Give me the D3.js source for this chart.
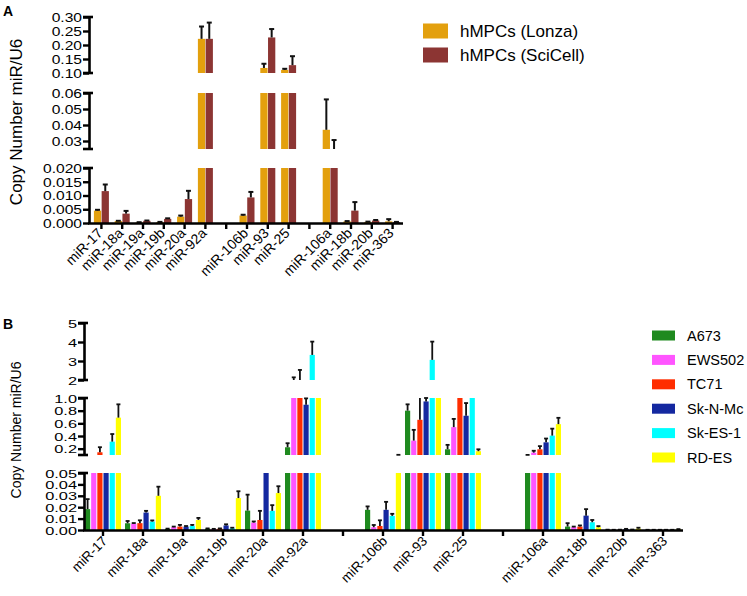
<!DOCTYPE html>
<html><head><meta charset="utf-8">
<script src="https://cdn.jsdelivr.net/npm/d3@7"></script>
<style>body{margin:0;background:#fff} svg{display:block} text{font-family:"Liberation Sans",Arial,Helvetica,sans-serif}</style>
</head><body>
<svg id="chart" width="747" height="596"></svg>
<script>
// ---------- shared categories ("" = empty slot) ----------
const categories = ["miR-17","miR-18a","miR-19a","miR-19b","miR-20a","miR-92a","","miR-106b","miR-93","miR-25","","miR-106a","miR-18b","miR-20b","miR-363"];

// ---------- Panel A data ----------
const seriesA = ["hMPCs (Lonza)", "hMPCs (SciCell)"];
const colorsA = ["#E3A00E", "#8C3533"];
const lonza     = [0.0045,0.0007,0.0002,0.0003,0.0023,0.222,null,0.0027,0.118,0.111,null,0.037,0.0006,0.0004,0.0006];
const lonzaErr  = [0.0003,0.0001,0.0001,0.0001,0.0004,0.044,null,0.0003,0.015,0.004,null,0.019,0.0001,0.0001,0.0008];
const scicell   = [0.0116,0.0034,0.0008,0.0015,0.0087,0.222,null,0.0093,0.227,0.128,null,0.024,0.0045,0.0009,0.0003];
const scicellErr= [0.0024,0.0010,0.0001,0.0002,0.0030,0.058,null,0.0020,0.030,0.032,null,0.0066,0.0031,0.0002,0.0001];
const ticksA_top = [0.10,0.15,0.20,0.25,0.30];
const labelsA_top = ["0.10","0.15","0.20","0.25","0.30"];
const ticksA_mid = [0.03,0.04,0.05,0.06];
const labelsA_mid = ["0.03","0.04","0.05","0.06"];
const ticksA_bot = [0,0.005,0.010,0.015,0.020];
const labelsA_bot = ["0.000","0.005","0.010","0.015","0.020"];

// ---------- Panel B data ----------
const seriesB = ["A673","EWS502","TC71","Sk-N-Mc","Sk-ES-1","RD-ES"];
const colorsB = ["#1F8A1F","#FF55FF","#FF2D00","#1428A0","#00FFFF","#FFFF00"];
const a673     = [0.0183,0.0059,0.0010,0.0012,0.017,0.222,null,0.0177,0.80,0.19,null,0.10,0.0030,0.0002,0.0001];
const a673Err  = [0.0088,0.0020,0.0002,0.0002,0.014,0.064,null,0.0030,0.10,0.07,null,0.002,0.0030,0.0001,0.0001];
const ews502   = [0.080,0.0056,0.0025,0.0008,0.0065,2.0,null,0.0024,0.327,0.54,null,0.137,0.0025,0.0001,0.0001];
const ews502Err= [0.005,0.0005,0.0005,0.0002,0.0010,0.14,null,0.0020,0.17,0.13,null,0.030,0.0005,0.0001,0.0001];
const tc71     = [0.143,0.0060,0.0030,0.0012,0.0088,1.95,null,0.0035,0.656,1.5,null,0.19,0.0030,0.0002,0.0001];
const tc71Err  = [0.080,0.0025,0.0015,0.0002,0.0080,0.58,null,0.0050,0.40,0.10,null,0.05,0.0010,0.0001,0.0001];
const skNMc    = [0.090,0.0153,0.0030,0.0040,0.080,0.894,null,0.0177,0.946,0.72,null,0.30,0.0126,0.0008,0.0001];
const skNMcErr = [0.005,0.0015,0.0005,0.0010,0.005,0.100,null,0.0070,0.054,0.20,null,0.06,0.0057,0.0002,0.0001];
const skES1    = [0.311,0.0074,0.0035,0.0015,0.0168,3.32,null,0.0124,3.06,1.5,null,0.406,0.0068,0.0003,0.0001];
const skES1Err = [0.120,0.0010,0.0010,0.0005,0.0050,0.70,null,0.0018,0.96,0.10,null,0.11,0.0020,0.0001,0.0001];
const rdES     = [0.69,0.030,0.0088,0.028,0.0324,1.5,null,0.100,1.5,0.16,null,0.587,0.0024,0.0012,0.0006];
const rdESErr  = [0.21,0.008,0.0018,0.006,0.0060,0.1,null,0.003,0.1,0.03,null,0.10,0.0010,0.0008,0.0002];
const ticksB_top = [2,3,4,5];
const labelsB_top = ["2","3","4","5"];
const ticksB_mid = [0.2,0.4,0.6,0.8,1.0];
const labelsB_mid = ["0.2","0.4","0.6","0.8","1.0"];
const ticksB_bot = [0,0.01,0.02,0.03,0.04,0.05];
const labelsB_bot = ["0.00","0.01","0.02","0.03","0.04","0.05"];

const svg = d3.select("#chart");

function drawPanel(cfg) {
  const g = svg.append("g");
  const idx = categories.map((c,i)=>i);
  const x = d3.scaleBand().domain(idx).range(cfg.xRange).padding(0);
  const inner = d3.scaleBand().domain(d3.range(cfg.series.length))
      .range([-cfg.groupW/2, cfg.groupW/2]).paddingInner(cfg.innerPad).paddingOuter(0);

  cfg.segments.forEach(seg => {
    const y = d3.scaleLinear().domain(seg.domain).range(seg.range);
    const [lo, hi] = seg.domain;
    // bars
    cfg.series.forEach((s, si) => {
      s.values.forEach((v, i) => {
        if (v == null) return;
        const cx = x(i) + x.bandwidth()/2;
        if (v > lo) {
          const top = Math.min(v, hi);
          g.append("rect")
            .attr("x", cx + inner(si)).attr("width", inner.bandwidth())
            .attr("y", y(top)).attr("height", y(lo) - y(top))
            .attr("fill", s.color);
        }
      });
    });
    // error bars
    cfg.series.forEach((s, si) => {
      s.values.forEach((v, i) => {
        if (v == null) return;
        const e = s.errors[i];
        const t = v + e;
        if (t <= lo || v >= hi) return;
        const ex = x(i) + x.bandwidth()/2 + inner(si) + inner.bandwidth()/2;
        const y0 = y(Math.max(v, lo)), y1 = y(Math.min(t, hi));
        g.append("line").attr("x1", ex).attr("x2", ex).attr("y1", y0).attr("y2", y1)
          .attr("stroke", "#111").attr("stroke-width", cfg.errW);
        if (t <= hi) {
          g.append("line").attr("x1", ex - cfg.capW/2).attr("x2", ex + cfg.capW/2)
            .attr("y1", y1).attr("y2", y1)
            .attr("stroke", "#111").attr("stroke-width", cfg.errW);
        }
      });
    });
    // axis segment
    const axis = d3.axisLeft(y).tickValues(seg.ticks)
      .tickFormat((d,i)=>seg.labels[i]).tickSize(6).tickSizeOuter(0).tickPadding(1);
    const ga = g.append("g").attr("transform", `translate(${cfg.axisX},0)`).call(axis);
    ga.attr("font-family", null).attr("font-size", null);
    ga.select(".domain").attr("stroke", "#000").attr("stroke-width", 2.6);
    ga.selectAll(".tick line").attr("stroke", "#000").attr("stroke-width", 2.4);
    ga.selectAll(".tick text").attr("fill", "#000")
      .style("font-size", cfg.tickFont + "px")
      .attr("dy", "0.36em")
      .each(function(){
        const w = this.getComputedTextLength();
        d3.select(this).attr("textLength", w * cfg.tickSX).attr("lengthAdjust", "spacingAndGlyphs");
      });
    // end caps
    seg.range.forEach(ry => {
      if (Math.abs(ry - cfg.xAxisY) < 1) return;
      g.append("line").attr("x1", cfg.axisX - 6).attr("x2", cfg.axisX + 4)
        .attr("y1", ry).attr("y2", ry).attr("stroke", "#000").attr("stroke-width", 2.6);
    });
  });

  // x axis
  const xa = d3.axisBottom(x).tickSize(6).tickSizeOuter(0).tickFormat("");
  const gx = g.append("g").attr("transform", `translate(0,${cfg.xAxisY})`).call(xa);
  gx.select(".domain").attr("d", `M${cfg.axisX - 1},0.5H${cfg.xRange[1]}`)
    .attr("stroke", "#000").attr("stroke-width", 2.6);
  gx.selectAll(".tick line").attr("stroke", "#000").attr("stroke-width", 2.4);

  // x labels
  g.selectAll("text.xl").data(idx.filter(i => categories[i] !== "")).enter()
    .append("text").attr("class", "xl")
    .attr("transform", i => `translate(${x(i) + x.bandwidth()/2 + cfg.xlDx},${cfg.xAxisY + cfg.xlDy}) rotate(-45)`)
    .attr("text-anchor", "end")
    .style("font-size", cfg.xlFont + "px")
    .text(i => categories[i]);

  // y title
  g.append("text")
    .attr("transform", `translate(${cfg.titleX},${cfg.titleY}) rotate(-90)`)
    .attr("text-anchor", "middle").style("font-size", cfg.titleFont + "px")
    .text("Copy Number miR/U6");

  // panel letter
  g.append("text").attr("x", 3).attr("y", cfg.letterY).style("font-size", "14px")
    .style("font-weight", "bold").text(cfg.letter);

  // legend
  cfg.series.forEach((s, si) => {
    const ly = cfg.legend.y0 + si * cfg.legend.step;
    g.append("rect").attr("x", cfg.legend.x).attr("y", ly - cfg.legend.h/2)
      .attr("width", cfg.legend.w).attr("height", cfg.legend.h).attr("fill", s.color);
    g.append("text").attr("x", cfg.legend.tx).attr("y", ly).attr("dy", "0.35em")
      .style("font-size", cfg.legend.font + "px").text(s.name);
  });
}

drawPanel({
  letter: "A", letterY: 16,
  axisX: 89, xRange: [91, 403], xAxisY: 223,
  segments: [
    {domain: [0.10, 0.30], range: [73, 17], ticks: ticksA_top, labels: labelsA_top},
    {domain: [0.025, 0.06], range: [149, 93], ticks: ticksA_mid, labels: labelsA_mid},
    {domain: [0, 0.02], range: [223, 168], ticks: ticksA_bot, labels: labelsA_bot}
  ],
  series: [
    {name: seriesA[0], color: colorsA[0], values: lonza, errors: lonzaErr},
    {name: seriesA[1], color: colorsA[1], values: scicell, errors: scicellErr}
  ],
  groupW: 15, innerPad: 0.06, errW: 2, capW: 5,
  tickFont: 12, tickSX: 1.3,
  xlFont: 14, xlDx: 2, xlDy: 11,
  titleX: 22, titleY: 122, titleFont: 17,
  legend: {x: 423, y0: 31, step: 24, w: 25, h: 15, tx: 460, font: 17}
});

drawPanel({
  letter: "B", letterY: 329,
  axisX: 84, xRange: [83, 683], xAxisY: 530,
  segments: [
    {domain: [2, 5], range: [380, 323], ticks: ticksB_top, labels: labelsB_top},
    {domain: [0.1, 1.0], range: [455, 398], ticks: ticksB_mid, labels: labelsB_mid},
    {domain: [0, 0.05], range: [530, 473], ticks: ticksB_bot, labels: labelsB_bot}
  ],
  series: [
    {name: seriesB[0], color: colorsB[0], values: a673, errors: a673Err},
    {name: seriesB[1], color: colorsB[1], values: ews502, errors: ews502Err},
    {name: seriesB[2], color: colorsB[2], values: tc71, errors: tc71Err},
    {name: seriesB[3], color: colorsB[3], values: skNMc, errors: skNMcErr},
    {name: seriesB[4], color: colorsB[4], values: skES1, errors: skES1Err},
    {name: seriesB[5], color: colorsB[5], values: rdES, errors: rdESErr}
  ],
  groupW: 36, innerPad: 0.16, errW: 1.8, capW: 4,
  tickFont: 11.5, tickSX: 1.42,
  xlFont: 13.5, xlDx: 5, xlDy: 12,
  titleX: 21, titleY: 430, titleFont: 14,
  legend: {x: 652, y0: 335.5, step: 24.4, w: 23, h: 10, tx: 687, font: 14.5}
});
</script>
</body></html>
